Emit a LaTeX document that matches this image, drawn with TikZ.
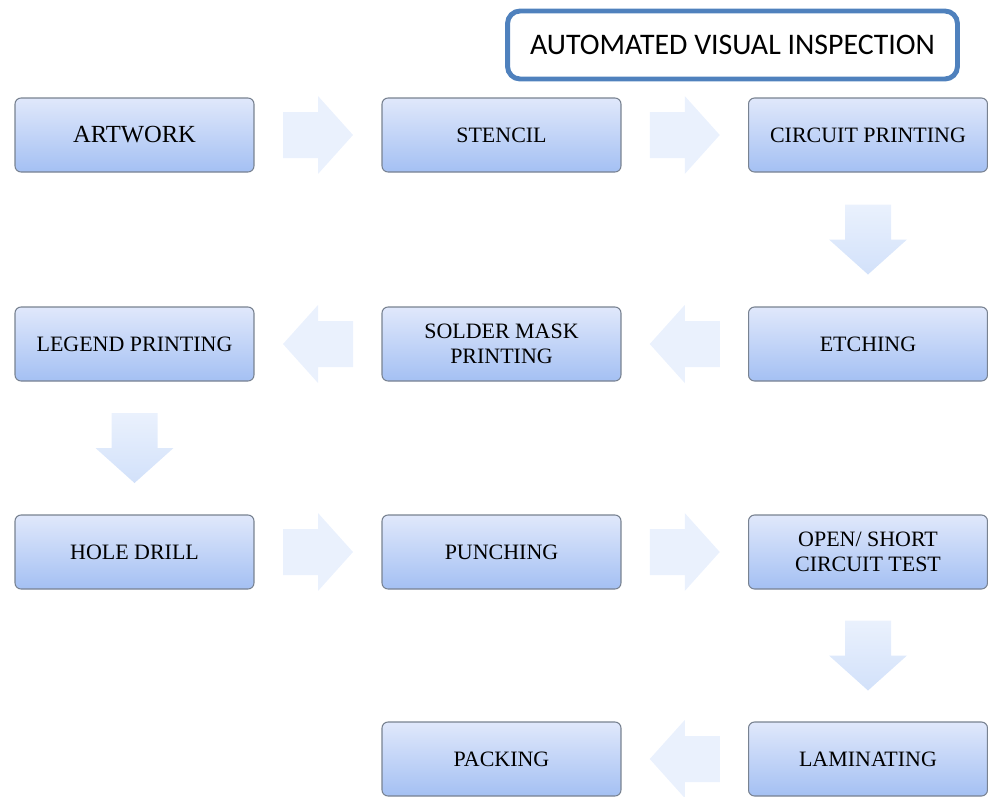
\documentclass[tikz,border=0pt]{standalone}
\usepackage{fontspec}
\setmainfont{Liberation Serif}
\newfontfamily\labelfont{Carlito}
\usetikzlibrary{calc}

\definecolor{boxtop}{RGB}{224,232,251}
\definecolor{boxbottom}{RGB}{164,192,243}
\definecolor{boxline}{RGB}{120,130,145}
\definecolor{arrowtop}{RGB}{234,241,253}
\definecolor{arrowbottom}{RGB}{210,225,250}
\definecolor{aviblue}{RGB}{79,129,189}

\tikzset{
  stage/.style={draw=boxline, line width=0.6pt, rounded corners=0.12cm,
    top color=boxtop, bottom color=boxbottom, minimum width=4.78cm,
    minimum height=1.48cm, align=center, font=\fontsize{12.5}{14.2}\selectfont},
  flowarrow/.pic={
    \path[fill=arrowtop]
      (-35,-23) -- (0,-23) -- (0,-39) -- (35,0) -- (0,39) -- (0,23) -- (-35,23) -- cycle;
  },
  downarrow/.pic={
    \shade[top color=arrowtop, bottom color=arrowbottom]
      (-23,35) -- (-23,0) -- (-39,0) -- (0,-35) -- (39,0) -- (23,0) -- (23,35) -- cycle;
  }
}

\begin{document}
\begin{tikzpicture}[x=0.02cm, y=0.02cm]
\useasboundingbox (0,0) rectangle (988,-796);

\node[draw=aviblue, line width=2.8pt, rounded corners=0.25cm, minimum width=9.0cm,
  minimum height=1.36cm, font=\labelfont\fontsize{17}{20}\selectfont]
  (avi) at (732.5,-45) {AUTOMATED VISUAL INSPECTION};

% first row
\node[stage, font=\fontsize{14}{16}\selectfont] (artwork) at (134.5,-135) {ARTWORK};
\node[stage] (stencil) at (501.5,-135) {STENCIL};
\node[stage] (printing) at (868,-135) {CIRCUIT PRINTING};

% second row
\node[stage] (legend) at (134.5,-344) {LEGEND PRINTING};
\node[stage] (mask) at (501.5,-344) {SOLDER MASK\\PRINTING};
\node[stage] (etching) at (868,-344) {ETCHING};

% third row
\node[stage] (drill) at (134.5,-552) {HOLE DRILL};
\node[stage] (punching) at (501.5,-552) {PUNCHING};
\node[stage] (test) at (868,-552) {OPEN/ SHORT\\CIRCUIT TEST};

% last row
\node[stage] (packing) at (501.5,-759) {PACKING};
\node[stage] (laminating) at (868,-759) {LAMINATING};

\pic at ($(artwork)!0.5!(stencil)$) {flowarrow};
\pic at ($(stencil)!0.5!(printing)$) {flowarrow};
\pic at ($(printing)!0.5!(etching)$) {downarrow};
\pic[rotate=180] at ($(etching)!0.5!(mask)$) {flowarrow};
\pic[rotate=180] at ($(mask)!0.5!(legend)$) {flowarrow};
\pic at ($(legend)!0.5!(drill)$) {downarrow};
\pic at ($(drill)!0.5!(punching)$) {flowarrow};
\pic at ($(punching)!0.5!(test)$) {flowarrow};
\pic at ($(test)!0.5!(laminating)$) {downarrow};
\pic[rotate=180] at ($(laminating)!0.5!(packing)$) {flowarrow};

\end{tikzpicture}
\end{document}
